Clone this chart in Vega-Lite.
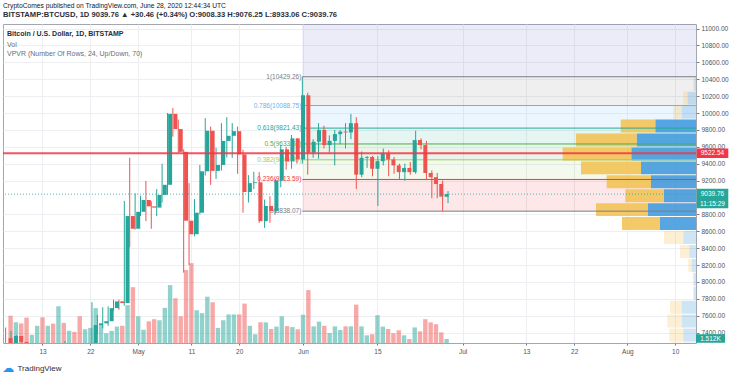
{
"$schema": "https://vega.github.io/schema/vega-lite/v6.json",
"width": 693, "height": 319,
"autosize": "none",
"padding": {"left": 3, "top": 24, "right": 40, "bottom": 36},
"background": "white",
"title": {"text": "CryptoComes published on TradingView.com, June 28, 2020 12:44:34 UTC", "subtitle": "BITSTAMP:BTCUSD, 1D  9039.76 ▲ +30.46 (+0.34%)  O:9008.33  H:9076.25  L:8933.06  C:9039.76", "anchor": "start", "frame": "group", "offset": 5, "fontSize": 6.7, "subtitleFontSize": 7.6, "subtitlePadding": 2, "font": "Liberation Sans", "subtitleFont": "Liberation Sans", "fontWeight": "normal", "subtitleFontWeight": "bold", "color": "#131722", "subtitleColor": "#2a2e39"},
"datasets": {
"candles": [
{"date":"2020-04-07","open":7335,"high":7460,"low":7085,"close":7195,"volume":10.3},
{"date":"2020-04-08","open":7195,"high":7420,"low":7150,"close":7360,"volume":7.8},
{"date":"2020-04-09","open":7360,"high":7370,"low":7115,"close":7290,"volume":7.4},
{"date":"2020-04-10","open":7290,"high":7290,"low":6750,"close":6865,"volume":9.6},
{"date":"2020-04-11","open":6865,"high":6945,"low":6780,"close":6885,"volume":3.1},
{"date":"2020-04-12","open":6885,"high":7185,"low":6860,"close":6905,"volume":6.5},
{"date":"2020-04-13","open":6905,"high":6915,"low":6625,"close":6845,"volume":9.7},
{"date":"2020-04-14","open":6845,"high":6950,"low":6785,"close":6855,"volume":6.5},
{"date":"2020-04-15","open":6855,"high":6940,"low":6610,"close":6625,"volume":7.3},
{"date":"2020-04-16","open":6625,"high":7190,"low":6470,"close":7100,"volume":13.9},
{"date":"2020-04-17","open":7100,"high":7150,"low":7000,"close":7030,"volume":7.6},
{"date":"2020-04-18","open":7030,"high":7300,"low":7025,"close":7250,"volume":4.6},
{"date":"2020-04-19","open":7250,"high":7260,"low":7060,"close":7130,"volume":4.2},
{"date":"2020-04-20","open":7130,"high":7220,"low":6800,"close":6845,"volume":10.1},
{"date":"2020-04-21","open":6845,"high":6940,"low":6780,"close":6860,"volume":5.2},
{"date":"2020-04-22","open":6860,"high":7150,"low":6840,"close":7125,"volume":5.7},
{"date":"2020-04-23","open":7125,"high":7760,"low":7030,"close":7490,"volume":13.2},
{"date":"2020-04-24","open":7490,"high":7610,"low":7380,"close":7510,"volume":6.9},
{"date":"2020-04-25","open":7510,"high":7700,"low":7450,"close":7535,"volume":3.7},
{"date":"2020-04-26","open":7535,"high":7710,"low":7480,"close":7690,"volume":4.6},
{"date":"2020-04-27","open":7690,"high":7790,"low":7660,"close":7770,"volume":6.2},
{"date":"2020-04-28","open":7770,"high":7790,"low":7670,"close":7750,"volume":6.5},
{"date":"2020-04-29","open":7750,"high":8960,"low":7720,"close":8780,"volume":14.3},
{"date":"2020-04-30","open":8780,"high":9470,"low":8410,"close":8630,"volume":21.1},
{"date":"2020-05-01","open":8630,"high":9050,"low":8620,"close":8830,"volume":10.1},
{"date":"2020-05-02","open":8830,"high":9020,"low":8780,"close":8970,"volume":5.0},
{"date":"2020-05-03","open":8970,"high":9195,"low":8720,"close":8895,"volume":8.2},
{"date":"2020-05-04","open":8895,"high":8955,"low":8630,"close":8880,"volume":9.0},
{"date":"2020-05-05","open":8880,"high":9100,"low":8780,"close":9030,"volume":8.6},
{"date":"2020-05-06","open":9030,"high":9400,"low":8940,"close":9150,"volume":13.3},
{"date":"2020-05-07","open":9150,"high":10000,"low":9030,"close":9990,"volume":21.9},
{"date":"2020-05-08","open":9990,"high":10060,"low":9720,"close":9810,"volume":16.9},
{"date":"2020-05-09","open":9810,"high":9920,"low":9530,"close":9540,"volume":10.1},
{"date":"2020-05-10","open":9540,"high":9570,"low":8110,"close":8725,"volume":27.6},
{"date":"2020-05-11","open":8725,"high":9170,"low":8200,"close":8565,"volume":30.2},
{"date":"2020-05-12","open":8565,"high":8980,"low":8540,"close":8820,"volume":12.4},
{"date":"2020-05-13","open":8820,"high":9385,"low":8800,"close":9310,"volume":11.3},
{"date":"2020-05-14","open":9310,"high":9940,"low":9260,"close":9790,"volume":17.5},
{"date":"2020-05-15","open":9790,"high":9840,"low":9150,"close":9315,"volume":15.4},
{"date":"2020-05-16","open":9315,"high":9590,"low":9220,"close":9385,"volume":5.7},
{"date":"2020-05-17","open":9385,"high":9880,"low":9320,"close":9670,"volume":8.6},
{"date":"2020-05-18","open":9670,"high":9950,"low":9475,"close":9730,"volume":10.8},
{"date":"2020-05-19","open":9730,"high":9880,"low":9470,"close":9785,"volume":10.8},
{"date":"2020-05-20","open":9785,"high":9840,"low":9280,"close":9510,"volume":10.8},
{"date":"2020-05-21","open":9510,"high":9565,"low":8820,"close":9065,"volume":14.9},
{"date":"2020-05-22","open":9065,"high":9265,"low":8940,"close":9170,"volume":6.5},
{"date":"2020-05-23","open":9170,"high":9305,"low":9100,"close":9180,"volume":3.3},
{"date":"2020-05-24","open":9180,"high":9300,"low":8700,"close":8720,"volume":7.8},
{"date":"2020-05-25","open":8720,"high":8975,"low":8640,"close":8900,"volume":7.8},
{"date":"2020-05-26","open":8900,"high":9015,"low":8700,"close":8840,"volume":5.3},
{"date":"2020-05-27","open":8840,"high":9220,"low":8810,"close":9200,"volume":6.2},
{"date":"2020-05-28","open":9200,"high":9620,"low":9120,"close":9570,"volume":10.1},
{"date":"2020-05-29","open":9570,"high":9600,"low":9330,"close":9430,"volume":6.4},
{"date":"2020-05-30","open":9430,"high":9740,"low":9340,"close":9700,"volume":6.0},
{"date":"2020-05-31","open":9700,"high":9700,"low":9400,"close":9450,"volume":5.2},
{"date":"2020-06-01","open":9450,"high":10429.26,"low":9400,"close":10210,"volume":10.7},
{"date":"2020-06-02","open":10210,"high":10240,"low":9270,"close":9530,"volume":20.0},
{"date":"2020-06-03","open":9530,"high":9690,"low":9470,"close":9660,"volume":6.3},
{"date":"2020-06-04","open":9660,"high":9880,"low":9460,"close":9800,"volume":8.1},
{"date":"2020-06-05","open":9800,"high":9850,"low":9580,"close":9620,"volume":6.5},
{"date":"2020-06-06","open":9620,"high":9735,"low":9530,"close":9670,"volume":3.8},
{"date":"2020-06-07","open":9670,"high":9800,"low":9380,"close":9750,"volume":6.3},
{"date":"2020-06-08","open":9750,"high":9800,"low":9630,"close":9780,"volume":4.9},
{"date":"2020-06-09","open":9780,"high":9880,"low":9580,"close":9770,"volume":6.3},
{"date":"2020-06-10","open":9770,"high":9990,"low":9690,"close":9880,"volume":6.3},
{"date":"2020-06-11","open":9880,"high":9950,"low":9100,"close":9270,"volume":14.5},
{"date":"2020-06-12","open":9270,"high":9545,"low":9240,"close":9470,"volume":6.3},
{"date":"2020-06-13","open":9470,"high":9490,"low":9350,"close":9480,"volume":2.9},
{"date":"2020-06-14","open":9480,"high":9490,"low":9250,"close":9340,"volume":3.3},
{"date":"2020-06-15","open":9340,"high":9490,"low":8900,"close":9430,"volume":10.5},
{"date":"2020-06-16","open":9430,"high":9580,"low":9380,"close":9520,"volume":6.2},
{"date":"2020-06-17","open":9520,"high":9560,"low":9250,"close":9450,"volume":5.3},
{"date":"2020-06-18","open":9450,"high":9480,"low":9280,"close":9380,"volume":3.7},
{"date":"2020-06-19","open":9380,"high":9400,"low":9210,"close":9300,"volume":4.8},
{"date":"2020-06-20","open":9300,"high":9400,"low":9200,"close":9350,"volume":2.9},
{"date":"2020-06-21","open":9350,"high":9420,"low":9270,"close":9300,"volume":1.5},
{"date":"2020-06-22","open":9300,"high":9790,"low":9280,"close":9680,"volume":5.9},
{"date":"2020-06-23","open":9680,"high":9700,"low":9570,"close":9620,"volume":4.4},
{"date":"2020-06-24","open":9620,"high":9670,"low":9210,"close":9290,"volume":9.0},
{"date":"2020-06-25","open":9290,"high":9320,"low":8990,"close":9240,"volume":7.8},
{"date":"2020-06-26","open":9240,"high":9290,"low":8990,"close":9160,"volume":7.1},
{"date":"2020-06-27","open":9160,"high":9200,"low":8838.07,"close":9010,"volume":4.0},
{"date":"2020-06-28","open":9008.33,"high":9076.25,"low":8933.06,"close":9039.76,"volume":1.512}
],
"fib": [
{"ratio":"1","price":10429.26,"next":10088.75,"label":"1(10429.26)"},
{"ratio":"0.786","price":10088.75,"next":9821.43,"label":"0.786(10088.75)"},
{"ratio":"0.618","price":9821.43,"next":9633.67,"label":"0.618(9821.43)"},
{"ratio":"0.5","price":9633.67,"next":9445.90,"label":"0.5(9633.67)"},
{"ratio":"0.382","price":9445.90,"next":9213.59,"label":"0.382(9445.90)"},
{"ratio":"0.236","price":9213.59,"next":8838.07,"label":"0.236(9213.59)"},
{"ratio":"0","price":8838.07,"next":null,"label":"0(8838.07)"}
],
"vpvr": [
{"low":10264.26,"high":10429.26,"up":1.5,"down":1.5,"va":false},
{"low":10099.26,"high":10264.26,"up":8.3,"down":4.4,"va":false},
{"low":9934.26,"high":10099.26,"up":14,"down":8.7,"va":false},
{"low":9769.26,"high":9934.26,"up":40.7,"down":34.6,"va":true},
{"low":9604.26,"high":9769.26,"up":59.3,"down":60.7,"va":true},
{"low":9439.26,"high":9604.26,"up":64.7,"down":68.6,"va":true},
{"low":9274.26,"high":9439.26,"up":55,"down":60,"va":true},
{"low":9109.26,"high":9274.26,"up":45,"down":44.3,"va":true},
{"low":8944.26,"high":9109.26,"up":32.3,"down":38.4,"va":true},
{"low":8779.26,"high":8944.26,"up":48.3,"down":51.7,"va":true},
{"low":8614.26,"high":8779.26,"up":36,"down":38,"va":true},
{"low":8449.26,"high":8614.26,"up":12.7,"down":19.3,"va":false},
{"low":8284.26,"high":8449.26,"up":6.7,"down":9.3,"va":false},
{"low":8119.26,"high":8284.26,"up":4.3,"down":3.4,"va":false},
{"low":7954.26,"high":8119.26,"up":2,"down":1.3,"va":false},
{"low":7789.26,"high":7954.26,"up":2,"down":1,"va":false},
{"low":7624.26,"high":7789.26,"up":14.3,"down":11.7,"va":false},
{"low":7459.26,"high":7624.26,"up":14.3,"down":14.4,"va":false},
{"low":7294.26,"high":7459.26,"up":12.7,"down":14,"va":false},
{"low":7129.26,"high":7294.26,"up":12,"down":13,"va":false}
]
},
"layer": [
{"data": {"values": [{}]},
 "mark": {"type": "rect", "color": "#7b7bd6", "opacity": 0.14, "clip": true},
 "encoding": {
  "x": {"datum": {"year":2020,"month":6,"date":1,"utc":true}, "type": "temporal", "scale": {"type":"utc","domain":[{"year":2020,"month":4,"date":6,"hours":12,"minutes":18,"utc":true},{"year":2020,"month":8,"date":12,"hours":23,"minutes":10,"utc":true}]}, "axis": null},
  "x2": {"datum": {"year":2020,"month":8,"date":20,"utc":true}},
  "y": {"datum": 10429.26, "type": "quantitative", "scale": {"domain":[7277,11054],"zero":false,"nice":false}, "axis": null},
  "y2": {"datum": 11054}}},
{"data": {"name": "fib"},
 "transform": [{"filter": "datum.next != null"}],
 "mark": {"type": "rect", "opacity": 0.12, "clip": true},
 "encoding": {
  "x": {"datum": {"year":2020,"month":6,"date":1,"utc":true}, "type": "temporal", "scale": {"type":"utc","domain":[{"year":2020,"month":4,"date":6,"hours":12,"minutes":18,"utc":true},{"year":2020,"month":8,"date":12,"hours":23,"minutes":10,"utc":true}]}, "axis": null},
  "x2": {"datum": {"year":2020,"month":8,"date":20,"utc":true}},
  "y": {"field": "price", "type": "quantitative", "scale": {"domain":[7277,11054],"zero":false,"nice":false}, "axis": null},
  "y2": {"field": "next"},
  "color": {"field": "ratio", "type": "nominal", "scale": {"domain": ["1","0.786","0.618","0.5","0.382","0.236","0"], "range": ["#787b86","#64b5f6","#22ab94","#4caf50","#9ccc65","#f23645","#787b86"]}, "legend": null}}},
{"data": {"name": "vpvr"},
 "transform": [{"fold": ["up","down"], "as": ["key","value"]}, {"stack": "value", "groupby": ["low"], "sort": [{"field": "key", "order": "descending"}], "as": ["v0","v1"]}],
 "mark": {"type": "rect", "clip": true, "y2Offset": 1},
 "encoding": {
  "x": {"field": "v0", "type": "quantitative", "scale": {"domain": [0, 693], "reverse": true, "nice": false, "zero": true}, "axis": null},
  "x2": {"field": "v1"},
  "y": {"field": "low", "type": "quantitative", "scale": {"domain":[7277,11054],"zero":false,"nice":false}, "axis": null},
  "y2": {"field": "high"},
  "color": {"condition": {"test": "datum.key === 'up'", "value": "#3a97dc"}, "value": "#f2c14e"},
  "opacity": {"condition": {"test": "datum.va", "value": 0.85}, "value": 0.25}}},
{"data": {"name": "fib"},
 "mark": {"type": "rule", "strokeWidth": 1, "clip": true},
 "encoding": {
  "x": {"datum": {"year":2020,"month":6,"date":1,"utc":true}, "type": "temporal", "scale": {"type":"utc","domain":[{"year":2020,"month":4,"date":6,"hours":12,"minutes":18,"utc":true},{"year":2020,"month":8,"date":12,"hours":23,"minutes":10,"utc":true}]}, "axis": null},
  "x2": {"datum": {"year":2020,"month":8,"date":20,"utc":true}},
  "y": {"field": "price", "type": "quantitative", "scale": {"domain":[7277,11054],"zero":false,"nice":false}, "axis": null},
  "color": {"field": "ratio", "type": "nominal", "legend": null}}},
{"data": {"name": "fib"},
 "mark": {"type": "text", "align": "right", "baseline": "middle", "dx": -1, "fontSize": 6.5, "font": "Liberation Sans"},
 "encoding": {
  "x": {"datum": {"year":2020,"month":6,"date":1,"utc":true}, "type": "temporal", "scale": {"type":"utc","domain":[{"year":2020,"month":4,"date":6,"hours":12,"minutes":18,"utc":true},{"year":2020,"month":8,"date":12,"hours":23,"minutes":10,"utc":true}]}, "axis": null},
  "y": {"field": "price", "type": "quantitative", "scale": {"domain":[7277,11054],"zero":false,"nice":false}, "axis": null},
  "text": {"field": "label"},
  "color": {"field": "ratio", "type": "nominal", "legend": null}}},
{"data": {"name": "candles"},
 "mark": {"type": "bar", "size": 4.4, "opacity": 0.5},
 "encoding": {
  "x": {"field": "date", "type": "temporal", "scale": {"type":"utc","domain":[{"year":2020,"month":4,"date":6,"hours":12,"minutes":18,"utc":true},{"year":2020,"month":8,"date":12,"hours":23,"minutes":10,"utc":true}]}, "axis": null},
  "y": {"field": "volume", "type": "quantitative", "scale": {"domain": [0, 120.6], "nice": false}, "axis": null},
  "color": {"condition": {"test": "datum.close >= datum.open", "value": "#26a69a"}, "value": "#ef5350"}}},
{"data": {"name": "candles"},
 "mark": {"type": "rule", "strokeWidth": 1, "clip": true},
 "encoding": {
  "x": {"field": "date", "type": "temporal", "scale": {"type":"utc","domain":[{"year":2020,"month":4,"date":6,"hours":12,"minutes":18,"utc":true},{"year":2020,"month":8,"date":12,"hours":23,"minutes":10,"utc":true}]}, "axis": null},
  "y": {"field": "low", "type": "quantitative", "scale": {"domain":[7277,11054],"zero":false,"nice":false}, "axis": null},
  "y2": {"field": "high"},
  "color": {"condition": {"test": "datum.close >= datum.open", "value": "#26a69a"}, "value": "#ef5350"}}},
{"data": {"name": "candles"},
 "mark": {"type": "bar", "size": 4, "clip": true},
 "encoding": {
  "x": {"field": "date", "type": "temporal", "scale": {"type":"utc","domain":[{"year":2020,"month":4,"date":6,"hours":12,"minutes":18,"utc":true},{"year":2020,"month":8,"date":12,"hours":23,"minutes":10,"utc":true}]},
   "axis": {"orient": "bottom", "values": [{"year":2020,"month":4,"date":13,"utc":true},{"year":2020,"month":4,"date":22,"utc":true},{"year":2020,"month":5,"date":1,"utc":true},{"year":2020,"month":5,"date":11,"utc":true},{"year":2020,"month":5,"date":20,"utc":true},{"year":2020,"month":6,"date":1,"utc":true},{"year":2020,"month":6,"date":15,"utc":true},{"year":2020,"month":7,"date":1,"utc":true},{"year":2020,"month":7,"date":13,"utc":true},{"year":2020,"month":7,"date":22,"utc":true},{"year":2020,"month":8,"date":1,"utc":true},{"year":2020,"month":8,"date":10,"utc":true}],
    "labelExpr": "utcdate(datum.value) === 1 ? utcFormat(datum.value, '%b') : utcFormat(datum.value, '%-d')",
    "grid": true, "gridColor": "#eceef2", "domain": false, "tickSize": 2, "tickColor": "#787b86", "labelPadding": 3, "labelFontSize": 6.5, "labelColor": "#50535e", "labelFont": "Liberation Sans", "labelFlush": false, "labelOverlap": false,
    "title": "TradingView", "titleX": 14, "titleY": 25, "titleAlign": "left", "titleAnchor": null, "titleBaseline": "middle", "titleFontSize": 8, "titleFontWeight": "normal", "titleColor": "#2a2e39", "titleFont": "Liberation Sans"}},
  "y": {"field": "open", "type": "quantitative", "scale": {"domain":[7277,11054],"zero":false,"nice":false},
   "axis": {"orient": "right", "values": [7400,7600,7800,8000,8200,8400,8600,8800,9200,9400,9600,9800,10000,10200,10400,10600,10800,11000], "format": ".2f", "grid": true, "gridColor": "#eceef2", "domain": false, "tickSize": 3, "tickColor": "#787b86", "labelPadding": 2, "labelFontSize": 6.5, "labelColor": "#50535e", "labelFont": "Liberation Sans", "labelFlush": false, "labelOverlap": false, "title": null}},
  "y2": {"field": "close"},
  "color": {"condition": {"test": "datum.close >= datum.open", "value": "#26a69a"}, "value": "#ef5350"}}},
{"data": {"values": [{}]},
 "mark": {"type": "rule", "color": "#f23645", "strokeWidth": 2, "opacity": 0.85},
 "encoding": {"y": {"datum": 9522.54, "type": "quantitative", "scale": {"domain":[7277,11054],"zero":false,"nice":false}, "axis": null}}},
{"data": {"values": [{}]},
 "mark": {"type": "rule", "color": "#26a69a", "strokeWidth": 1, "strokeDash": [1, 2], "opacity": 0.8},
 "encoding": {"y": {"datum": 9039.76, "type": "quantitative", "scale": {"domain":[7277,11054],"zero":false,"nice":false}, "axis": null}}},
{"data": {"values": [{}]},
 "mark": {"type": "text", "align": "left", "baseline": "middle", "fontSize": 7, "fontWeight": "bold", "color": "#2a2e39", "font": "Liberation Sans", "text": "Bitcoin / U.S. Dollar, 1D, BITSTAMP"},
 "encoding": {
  "x": {"datum": {"year":2020,"month":4,"date":7,"hours":6,"utc":true}, "type": "temporal", "scale": {"type":"utc","domain":[{"year":2020,"month":4,"date":6,"hours":12,"minutes":18,"utc":true},{"year":2020,"month":8,"date":12,"hours":23,"minutes":10,"utc":true}]}, "axis": null},
  "y": {"datum": 10940, "type": "quantitative", "scale": {"domain":[7277,11054],"zero":false,"nice":false}, "axis": null}}},
{"data": {"values": [{}]},
 "mark": {"type": "text", "align": "left", "baseline": "middle", "fontSize": 7, "color": "#6a6d78", "font": "Liberation Sans", "lineHeight": 9, "text": ["Vol", "VPVR (Number Of Rows, 24, Up/Down, 70)"]},
 "encoding": {
  "x": {"datum": {"year":2020,"month":4,"date":7,"hours":6,"utc":true}, "type": "temporal", "scale": {"type":"utc","domain":[{"year":2020,"month":4,"date":6,"hours":12,"minutes":18,"utc":true},{"year":2020,"month":8,"date":12,"hours":23,"minutes":10,"utc":true}]}, "axis": null},
  "y": {"datum": 10805, "type": "quantitative", "scale": {"domain":[7277,11054],"zero":false,"nice":false}, "axis": null}}},
{"data": {"values": [{}]},
 "mark": {"type": "text", "align": "center", "baseline": "middle", "fontSize": 12, "color": "#2196f3", "font": "DejaVu Sans", "text": "☁"},
 "encoding": {
  "x": {"datum": {"year":2020,"month":4,"date":7,"hours":12,"utc":true}, "type": "temporal", "scale": {"type":"utc","domain":[{"year":2020,"month":4,"date":6,"hours":12,"minutes":18,"utc":true},{"year":2020,"month":8,"date":12,"hours":23,"minutes":10,"utc":true}]}, "axis": null},
  "y": {"datum": 6985, "type": "quantitative", "scale": {"domain":[7277,11054],"zero":false,"nice":false}, "axis": null}}},
{"data": {"values": [{}]},
 "mark": {"type": "point", "shape": "M-1,-0.3H1V0.3H-1Z", "size": 1000, "filled": true, "color": "#f23645", "opacity": 1},
 "encoding": {
  "x": {"datum": {"year":2020,"month":8,"date":16,"hours":0,"minutes":30,"utc":true}, "type": "temporal", "scale": {"type":"utc","domain":[{"year":2020,"month":4,"date":6,"hours":12,"minutes":18,"utc":true},{"year":2020,"month":8,"date":12,"hours":23,"minutes":10,"utc":true}]}, "axis": null},
  "y": {"datum": 9522.54, "type": "quantitative", "scale": {"domain":[7277,11054],"zero":false,"nice":false}, "axis": null}}},
{"data": {"values": [{}]},
 "mark": {"type": "point", "shape": "M-1,-0.34H1V0.9H-1Z", "size": 1000, "filled": true, "color": "#26a69a", "opacity": 1},
 "encoding": {
  "x": {"datum": {"year":2020,"month":8,"date":16,"hours":0,"minutes":30,"utc":true}, "type": "temporal", "scale": {"type":"utc","domain":[{"year":2020,"month":4,"date":6,"hours":12,"minutes":18,"utc":true},{"year":2020,"month":8,"date":12,"hours":23,"minutes":10,"utc":true}]}, "axis": null},
  "y": {"datum": 9039.76, "type": "quantitative", "scale": {"domain":[7277,11054],"zero":false,"nice":false}, "axis": null}}},
{"data": {"values": [{}]},
 "mark": {"type": "text", "align": "center", "baseline": "middle", "fontSize": 6.5, "color": "white", "font": "Liberation Sans", "text": "9522.54"},
 "encoding": {
  "x": {"datum": {"year":2020,"month":8,"date":16,"hours":0,"minutes":30,"utc":true}, "type": "temporal", "scale": {"type":"utc","domain":[{"year":2020,"month":4,"date":6,"hours":12,"minutes":18,"utc":true},{"year":2020,"month":8,"date":12,"hours":23,"minutes":10,"utc":true}]}, "axis": null},
  "y": {"datum": 9522.54, "type": "quantitative", "scale": {"domain":[7277,11054],"zero":false,"nice":false}, "axis": null}}},
{"data": {"values": [{}]},
 "mark": {"type": "text", "align": "center", "baseline": "middle", "fontSize": 6.5, "color": "white", "font": "Liberation Sans", "text": "9039.76"},
 "encoding": {
  "x": {"datum": {"year":2020,"month":8,"date":16,"hours":0,"minutes":30,"utc":true}, "type": "temporal", "scale": {"type":"utc","domain":[{"year":2020,"month":4,"date":6,"hours":12,"minutes":18,"utc":true},{"year":2020,"month":8,"date":12,"hours":23,"minutes":10,"utc":true}]}, "axis": null},
  "y": {"datum": 9039.76, "type": "quantitative", "scale": {"domain":[7277,11054],"zero":false,"nice":false}, "axis": null}}},
{"data": {"values": [{}]},
 "mark": {"type": "text", "align": "center", "baseline": "middle", "fontSize": 6.5, "color": "white", "font": "Liberation Sans", "dy": 9.7, "text": "11:15:29"},
 "encoding": {
  "x": {"datum": {"year":2020,"month":8,"date":16,"hours":0,"minutes":30,"utc":true}, "type": "temporal", "scale": {"type":"utc","domain":[{"year":2020,"month":4,"date":6,"hours":12,"minutes":18,"utc":true},{"year":2020,"month":8,"date":12,"hours":23,"minutes":10,"utc":true}]}, "axis": null},
  "y": {"datum": 9039.76, "type": "quantitative", "scale": {"domain":[7277,11054],"zero":false,"nice":false}, "axis": null}}},
{"data": {"values": [{}]},
 "mark": {"type": "point", "shape": "M-1,-0.33H1V0.26H-1Z", "size": 841, "filled": true, "color": "#26a69a", "opacity": 1},
 "encoding": {
  "x": {"datum": {"year":2020,"month":8,"date":15,"hours":15,"minutes":36,"utc":true}, "type": "temporal", "scale": {"type":"utc","domain":[{"year":2020,"month":4,"date":6,"hours":12,"minutes":18,"utc":true},{"year":2020,"month":8,"date":12,"hours":23,"minutes":10,"utc":true}]}, "axis": null},
  "y": {"datum": 1.512, "type": "quantitative", "scale": {"domain": [0, 120.6], "nice": false}, "axis": null}}},
{"data": {"values": [{}]},
 "mark": {"type": "text", "align": "center", "baseline": "middle", "fontSize": 6.5, "color": "white", "font": "Liberation Sans", "dy": -0.5, "text": "1.512K"},
 "encoding": {
  "x": {"datum": {"year":2020,"month":8,"date":15,"hours":15,"minutes":36,"utc":true}, "type": "temporal", "scale": {"type":"utc","domain":[{"year":2020,"month":4,"date":6,"hours":12,"minutes":18,"utc":true},{"year":2020,"month":8,"date":12,"hours":23,"minutes":10,"utc":true}]}, "axis": null},
  "y": {"datum": 1.512, "type": "quantitative", "scale": {"domain": [0, 120.6], "nice": false}, "axis": null}}}
],
"resolve": {"scale": {"x": "independent", "y": "independent"}},
"config": {
  "font": "Liberation Sans",
  "view": {"stroke": "#a3a6af", "strokeWidth": 1}
}
}
